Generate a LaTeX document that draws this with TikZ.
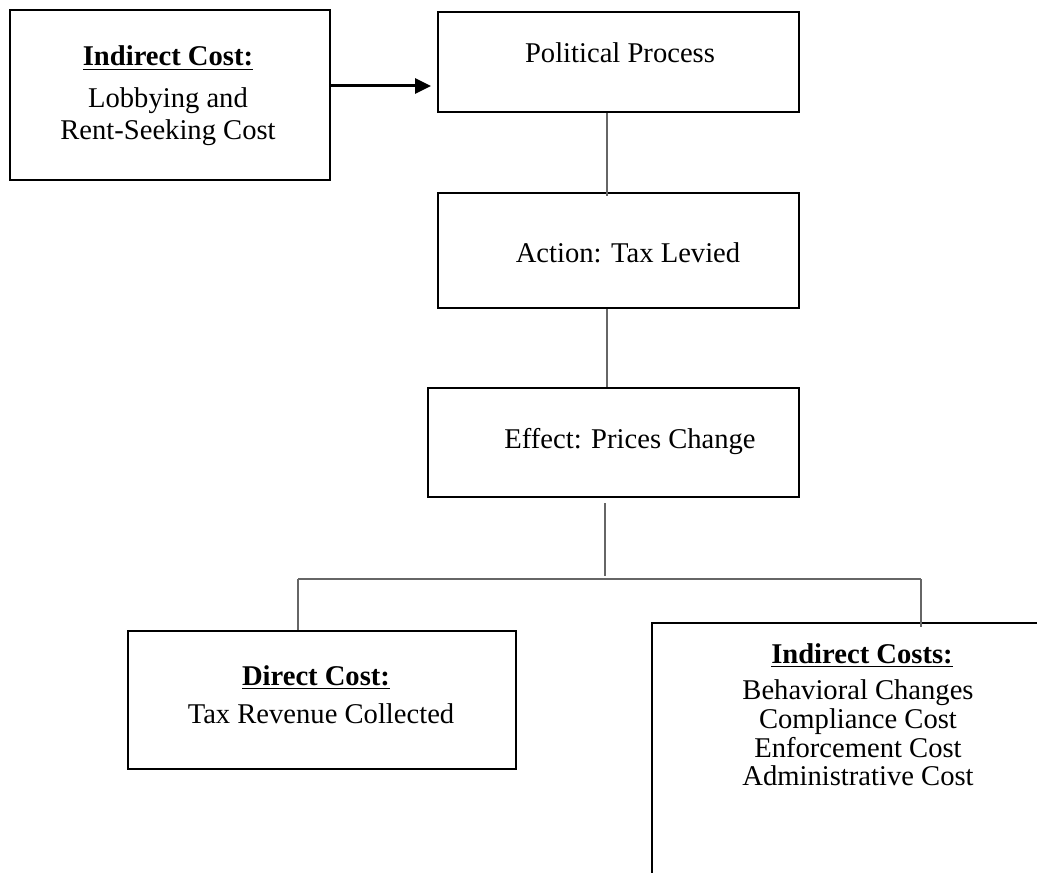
\documentclass[tikz,border=0pt]{standalone}
\usepackage{fontspec}
\setmainfont{Liberation Serif}
\usetikzlibrary{arrows.meta}
\tikzset{
    costbox/.style={draw=black,line width=1pt,fill=white,inner sep=0pt},
    label/.style={font=\fontsize{14.3}{16}\selectfont,anchor=base,inner sep=0pt},
    link/.style={draw=black!60,line width=0.75pt},
    bigarrow/.style={-{Triangle[length=8pt,width=7.5pt]},line width=1.5pt}
}
\begin{document}
\begin{tikzpicture}[x=0.5pt,y=-0.5pt]
    \useasboundingbox (0,0) rectangle (1037,872);
    \clip (0,0) rectangle (1037,872);

    % boxes
    \node[costbox,minimum width=160pt,minimum height=85pt] (lobby) at (170,95) {};
    \node[costbox,minimum width=180.5pt,minimum height=50pt] (pol) at (618.5,62) {};
    \node[costbox,minimum width=180.5pt,minimum height=57.5pt] (act) at (618.5,250.5) {};
    \node[costbox,minimum width=185.5pt,minimum height=54.5pt] (eff) at (613.5,442.5) {};
    \node[costbox,minimum width=194pt,minimum height=69pt] (dir) at (322,700) {};
    \node[costbox,minimum width=206pt,minimum height=150pt] (ind) at (858,773) {};

    % texts
    \node[label] (lobbyhead) at (168,66) {\underline{\textbf{Indirect Cost:}}};
    \node[label] (lobbyl1) at (168,107) {Lobbying and};
    \node[label] (lobbyl2) at (168,140) {Rent-Seeking Cost};
    \node[label] (poltext) at (620,63) {Political Process};
    \node[label] (acttext) at (628,262) {Action: Tax Levied};
    \node[label] (efftext) at (630,448) {Effect: Prices Change};
    \node[label] (dirhead) at (316,685) {\underline{\textbf{Direct Cost:}}};
    \node[label] (dirl1) at (321,723) {Tax Revenue Collected};
    \node[label] (indhead) at (862,663) {\underline{\textbf{Indirect Costs:}}};
    \node[label] (indl1) at (858,699) {Behavioral Changes};
    \node[label] (indl2) at (858,728) {Compliance Cost};
    \node[label] (indl3) at (858,757) {Enforcement Cost};
    \node[label] (indl4) at (858,785) {Administrative Cost};

    % connectors
    \draw[bigarrow,shorten >=3pt] (lobby.east |- 0,86) -- (pol.west |- 0,86);
    \coordinate (stemA) at (607,0);
    \coordinate (stemB) at (605,0);
    \coordinate (barL) at (298,579);
    \coordinate (barM) at (605,579);
    \coordinate (barR) at (921,579);
    \draw[link] (pol.south -| stemA) -- ([yshift=-2pt]act.north -| stemA);
    \draw[link] (act.south -| stemA) -- (eff.north -| stemA);
    \draw[link] ([yshift=-2.5pt]eff.south -| stemB) -- ([yshift=1.5pt]barM);
    \draw[link] (barL) -- (barR);
    \draw[link] (barL) -- (dir.north -| barL);
    \draw[link] (barR) -- ([yshift=-2.5pt]ind.north -| barR);
\end{tikzpicture}
\end{document}
